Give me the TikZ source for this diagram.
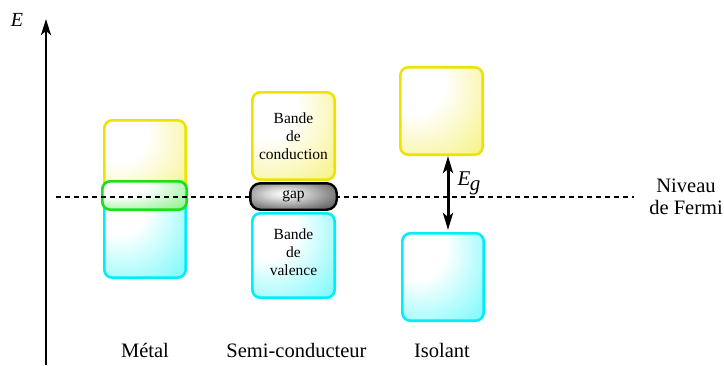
\documentclass[tikz,border=0pt]{standalone}
\usepackage{fontspec}
\setmainfont{Liberation Serif}
\usetikzlibrary{arrows.meta}
\definecolor{myY}{RGB}{236,228,0}
\definecolor{myYl}{RGB}{248,244,150}
\definecolor{myC}{RGB}{0,238,250}
\definecolor{myCl}{RGB}{140,250,252}
\definecolor{myG}{RGB}{25,225,25}
\definecolor{myGl}{RGB}{150,242,150}
\pgfdeclareradialshading{shY}{\pgfpoint{-20bp}{20bp}}{color(0bp)=(white); color(18bp)=(white); color(45bp)=(myYl); color(70bp)=(myY); color(100bp)=(myY)}
\pgfdeclareradialshading{shC}{\pgfpoint{-20bp}{20bp}}{color(0bp)=(white); color(18bp)=(white); color(45bp)=(myCl); color(70bp)=(myC); color(100bp)=(myC)}
\pgfdeclareradialshading{shG}{\pgfpoint{-20bp}{20bp}}{color(0bp)=(white); color(18bp)=(white); color(45bp)=(myGl); color(70bp)=(myG); color(100bp)=(myG)}
\pgfdeclareradialshading{shK}{\pgfpoint{-6bp}{6bp}}{color(0bp)=(white); color(10bp)=(white!85!black); color(28bp)=(gray); color(45bp)=(black!80); color(100bp)=(black)}
\begin{document}
\begin{tikzpicture}[x=1pt,y=-1pt,
  band/.style={rounded corners=8pt, line width=2.6pt, inner sep=0pt, align=center,
    font=\fontsize{15.5}{18}\selectfont},
  bsize/.style 2 args={minimum width=#1pt-2.6pt, minimum height=#2pt-2.6pt},
  ybox/.style={band, draw=myY, shading=shY},
  cbox/.style={band, draw=myC, shading=shC},
  gbox/.style={band, draw=myG, shading=shG},
  kbox/.style={band, draw=black, shading=shK, rounded corners=10pt, line width=2.4pt},
  lbl/.style={font=\fontsize{20.5}{22}\selectfont, anchor=base, inner sep=0pt},
  arr/.style={line width=3pt, {Stealth[length=17pt,width=10pt,inset=4pt]}-{Stealth[length=17pt,width=10pt,inset=4pt]}}
]
\useasboundingbox (0,0) rectangle (724,365);
% axis
\coordinate (axb) at (46,365);
\coordinate (axt) at (46,19);
\draw[line width=2.6pt, -{Stealth[length=16pt,width=10pt,inset=4pt]}] (axb) -- (axt);
\node[font=\fontsize{20}{22}\selectfont\itshape] (E) at (17,20) {E};
% Metal
\node[ybox, bsize={84}{82}] (mY) at (145,160) {};
\node[cbox, bsize={84}{94}] (mC) at (145,232) {};
\node[gbox, bsize={87}{31}] (mG) at (144.5,195.5) {};
% Fermi level
\coordinate (fa) at (56,197);
\coordinate (fb) at (634,197);
\draw[line width=1.4pt, dash pattern=on 5pt off 4pt] (fa) -- (fb);
% Semi-conducteur
\node[ybox, bsize={85}{90}] (sY) at (293.5,136) {Bande\\de\\conduction};
\node[cbox, bsize={85}{87}] (sC) at (293.5,255.5) {};
\node[font=\fontsize{15.5}{18}\selectfont, align=center] (sCt) at (293.5,252) {Bande\\de\\valence};
\node[kbox, bsize={89}{29}, font=\fontsize{15.5}{18}\selectfont] (sG) at (293.5,196.5) {gap};
% Isolant
\node[ybox, bsize={85}{90}] (iY) at (441.5,111) {};
\node[cbox, bsize={84}{90}] (iC) at (443,277) {};
\draw[arr, shorten >=2pt] (iY.south -| 448,0) -- (iC.north -| 448,0);
\node[font=\fontsize{21}{22}\selectfont\itshape, inner sep=1pt] (Eg) at (469,183) {E\kern-0.5pt\raisebox{-5pt}{g}};
% labels
\node[lbl] (l1) at (145,357) {Métal};
\node[lbl] (l2) at (296.5,357) {Semi-conducteur};
\node[lbl] (l3) at (442,357) {Isolant};
\node[font=\fontsize{20.5}{22}\selectfont, align=center, inner sep=0pt] (nf) at (686,197) {Niveau\\de Fermi};
\end{tikzpicture}
\end{document}
